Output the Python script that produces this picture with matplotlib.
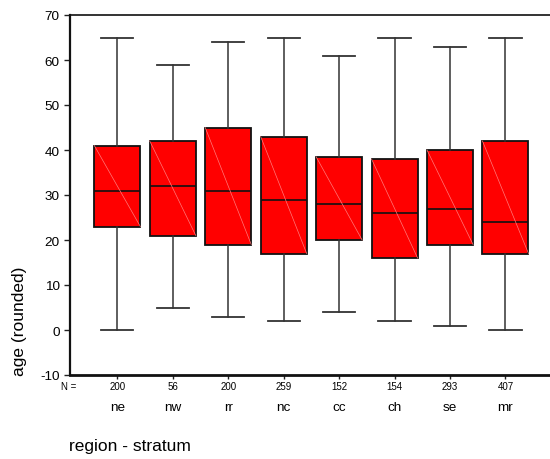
import matplotlib
matplotlib.use("Agg")
import matplotlib.pyplot as plt
from matplotlib.transforms import blended_transform_factory

plt.rcParams['font.family'] = ['Liberation Sans', 'DejaVu Sans']

# Age distribution by region stratum
regions = ["ne", "nw", "rr", "nc", "cc", "ch", "se", "mr"]
counts = [200, 56, 200, 259, 152, 154, 293, 407]
whisker_low = [0, 5, 3, 2, 4, 2, 1, 0]
q1 = [23, 21, 19, 17, 20, 16, 19, 17]
median = [31, 32, 31, 29, 28, 26, 27, 24]
q3 = [41, 42, 45, 43, 38.5, 38, 40, 42]
whisker_high = [65, 59, 64, 65, 61, 65, 63, 65]
y_ticks = [-10, 0, 10, 20, 30, 40, 50, 60, 70]

W, H = 550, 460
fig = plt.figure(figsize=(W / 100, H / 100), dpi=100)
ax = fig.add_axes([70 / W, 1 - 376 / H, 1 - 70 / W, (376 - 16) / H])

positions = list(range(1, len(regions) + 1))
stats = [
    dict(med=m, q1=a, q3=b, whislo=lo, whishi=hi, fliers=[], label=r)
    for r, lo, a, m, b, hi in zip(regions, whisker_low, q1, median, q3, whisker_high)
]

box_w = 0.83
ax.bxp(
    stats, positions=positions, widths=box_w, capwidths=0.58,
    patch_artist=True, showfliers=False,
    boxprops=dict(facecolor="#ff0000", edgecolor="#111111", linewidth=1.3),
    medianprops=dict(color="#111111", linewidth=1.2),
    whiskerprops=dict(color="#333333", linewidth=1.1),
    capprops=dict(color="#333333", linewidth=1.3),
)

# faint diagonal shading line inside each box
for p, a, b in zip(positions, q1, q3):
    ax.plot([p - box_w / 2, p + box_w / 2], [b, a], color="#ff7a7a",
            linewidth=0.5, zorder=3)

ax.set_xlim(0.147, 8.803)
ax.set_ylim(-10, 70)
ax.set_yticks(y_ticks)
ax.set_yticklabels([str(v) for v in y_ticks], fontsize=9.7)
ax.tick_params(axis="y", direction="out", length=4, width=1, pad=3.5, color="#222222")
ax.set_xticks(positions)
ax.set_xticklabels([])
ax.tick_params(axis="x", direction="out", length=3, width=1, color="#222222")

for side in ["left", "top", "bottom"]:
    ax.spines[side].set_color("#111111")
ax.spines["left"].set_linewidth(1.6)
ax.spines["top"].set_linewidth(1.2)
ax.spines["bottom"].set_linewidth(2.0)
ax.spines["right"].set_visible(False)

# counts and category names under the axis
trans = blended_transform_factory(ax.transData, fig.transFigure)
for p, n, r in zip(positions, counts, regions):
    ax.text(p, 1 - 387 / H, str(n), transform=trans, ha="center", va="center",
            fontsize=7, clip_on=False)
    ax.text(p, 1 - 408 / H, r, transform=trans, ha="center", va="center",
            fontsize=9.7, clip_on=False)
fig.text(61 / W, 1 - 387 / H, "N =", ha="left", va="center", fontsize=7)

fig.text(20 / W, 1 - 376 / H, "age (rounded)", rotation=90, ha="center",
         va="bottom", fontsize=12.5)
fig.text(69 / W, 1 - 447 / H, "region - stratum", ha="left", va="center",
         fontsize=12.5)

fig.savefig("out.png", dpi=100)
